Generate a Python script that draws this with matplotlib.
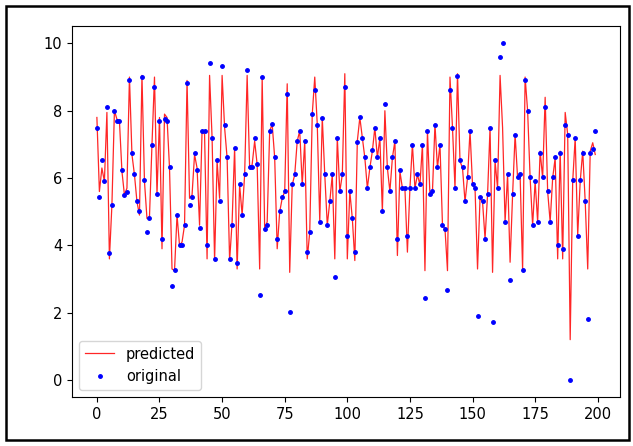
import matplotlib
matplotlib.use("Agg")
import matplotlib.pyplot as plt
from matplotlib.patches import Rectangle

# observed values (blue dots)
original = [
    7.49, 5.43, 6.53, 5.92, 8.10, 3.77, 5.20, 8.00, 7.70, 7.70,
    6.23, 5.50, 5.60, 8.91, 6.74, 6.13, 5.33, 5.01, 9.00, 5.93,
    4.39, 4.81, 6.99, 8.71, 5.53, 7.70, 4.20, 7.76, 7.70, 6.33,
    2.78, 3.27, 4.91, 4.00, 4.00, 4.61, 8.81, 5.21, 5.43, 6.75,
    6.23, 4.51, 7.39, 7.39, 4.00, 9.41, 7.19, 3.60, 6.53, 5.33,
    9.32, 7.59, 6.63, 3.60, 4.61, 6.90, 3.49, 5.82, 4.91, 6.13,
    9.22, 6.33, 6.33, 7.19, 6.43, 2.53, 9.01, 4.49, 4.61, 7.39,
    7.61, 6.63, 4.20, 5.01, 5.43, 5.62, 8.50, 2.01, 5.82, 6.12,
    7.11, 7.39, 5.82, 7.09, 3.79, 4.40, 7.90, 8.61, 7.59, 4.71,
    7.79, 6.12, 4.61, 5.31, 6.12, 3.07, 7.18, 5.62, 6.12, 8.71,
    4.29, 5.62, 4.81, 3.79, 7.08, 7.80, 7.18, 6.63, 5.71, 6.32,
    6.83, 7.49, 6.63, 7.19, 5.01, 8.20, 6.33, 5.62, 6.63, 7.09,
    4.20, 6.23, 5.72, 5.72, 4.29, 5.72, 6.99, 5.72, 6.13, 5.82,
    6.99, 2.43, 7.39, 5.53, 5.62, 7.59, 6.33, 6.99, 4.61, 4.49,
    2.68, 8.61, 7.49, 5.72, 9.02, 6.53, 6.33, 5.33, 6.03, 7.39,
    5.82, 5.72, 1.91, 5.43, 5.33, 4.20, 5.53, 7.49, 1.72, 6.53,
    5.72, 9.61, 10.02, 4.71, 6.13, 2.98, 5.53, 7.29, 6.03, 6.13,
    3.27, 8.91, 8.00, 6.03, 4.61, 5.92, 4.71, 6.75, 6.03, 8.10,
    5.62, 4.71, 6.03, 6.63, 4.00, 6.75, 3.90, 7.59, 7.29, 0.00,
    5.93, 7.19, 4.29, 5.93, 6.75, 5.33, 1.82, 6.75, 6.85, 7.39,
]

# model output (red line)
predicted = [
    7.80, 5.60, 6.30, 5.90, 7.95, 3.60, 5.20, 8.00, 7.75, 7.70,
    6.20, 5.50, 5.70, 9.00, 6.70, 6.10, 5.30, 4.90, 9.05, 5.90,
    4.80, 4.85, 7.00, 9.00, 5.50, 7.80, 3.90, 7.90, 7.80, 6.30,
    3.30, 3.25, 4.90, 4.00, 4.10, 4.60, 8.90, 5.40, 5.50, 6.70,
    6.30, 4.60, 7.40, 7.30, 3.60, 9.05, 7.20, 3.55, 6.50, 5.40,
    9.05, 7.50, 6.60, 3.55, 4.70, 6.90, 3.30, 5.80, 4.90, 6.10,
    9.05, 6.30, 6.40, 7.10, 6.40, 3.30, 9.00, 4.50, 4.70, 7.40,
    7.60, 6.60, 3.90, 5.00, 5.40, 5.60, 8.80, 3.20, 5.80, 6.10,
    7.10, 7.40, 5.80, 7.10, 3.60, 4.40, 7.90, 9.00, 7.60, 4.70,
    7.80, 6.10, 4.60, 5.30, 6.10, 3.60, 7.20, 5.60, 6.10, 9.10,
    3.60, 5.60, 4.80, 3.55, 7.10, 7.80, 7.20, 6.60, 5.70, 6.30,
    6.80, 7.50, 6.60, 7.20, 5.00, 8.00, 6.30, 5.60, 6.60, 7.10,
    3.70, 6.20, 5.70, 5.70, 3.80, 5.70, 7.00, 5.70, 6.10, 5.80,
    7.00, 3.25, 7.40, 5.50, 5.60, 7.60, 6.30, 7.00, 4.60, 4.50,
    3.25, 9.00, 7.50, 5.70, 9.10, 6.50, 6.30, 5.30, 6.00, 7.40,
    5.80, 5.70, 3.30, 5.40, 5.30, 4.20, 5.50, 7.50, 3.20, 6.50,
    5.70, 9.05, 7.50, 4.70, 6.10, 3.50, 5.50, 7.30, 6.00, 6.10,
    3.27, 9.00, 8.00, 6.00, 4.60, 5.90, 4.70, 6.80, 6.00, 8.40,
    5.60, 4.70, 6.00, 6.60, 3.60, 6.80, 3.60, 7.95, 7.30, 1.20,
    5.90, 7.20, 4.30, 5.90, 6.80, 5.30, 3.30, 6.80, 7.05, 6.70,
]

fig = plt.figure(figsize=(6.33, 4.46), dpi=100)
ax = fig.add_axes([0.1137, 0.110, 0.866, 0.832])

ax.plot(predicted, color='red', linewidth=0.9, alpha=0.85, label='predicted')
ax.plot(original, 'b.', markersize=5, label='original')

ax.set_xticks([0, 25, 50, 75, 100, 125, 150, 175, 200])
ax.set_yticks([0, 2, 4, 6, 8, 10])
ax.tick_params(labelsize=10.5)
ax.legend(loc='lower left', fontsize=10.5)

# screenshot frame round the whole figure
fig.patches.append(Rectangle((6 / 633, 6 / 446), 623 / 633, 434 / 446,
                             transform=fig.transFigure, fill=False,
                             edgecolor='black', linewidth=1.8))

plt.savefig('out.png', dpi=100)
